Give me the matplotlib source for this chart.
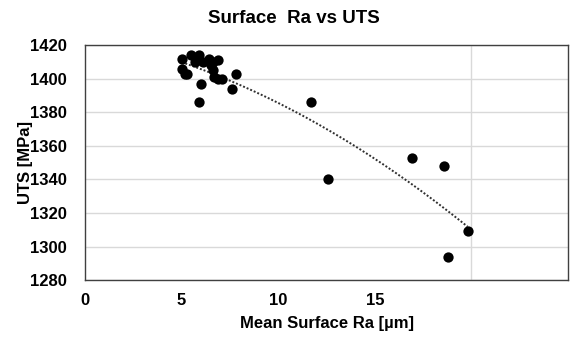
import numpy as np
import matplotlib
matplotlib.use('Agg')
import matplotlib.pyplot as plt

plt.rcParams['font.family'] = ['Liberation Sans', 'DejaVu Sans']
plt.rcParams['font.weight'] = 'bold'

# Data
ra = [5.0, 5.0, 5.2, 5.3, 5.5, 5.7, 5.9, 6.0, 5.9, 6.1, 6.4, 6.5, 6.6, 6.6,
      6.7, 6.9, 6.9, 7.1, 7.6, 7.8, 11.7, 12.6, 16.9, 18.6, 18.8, 19.8]
uts = [1406, 1412, 1403, 1403, 1414, 1410, 1414, 1397, 1386, 1410, 1412, 1408,
       1410, 1405, 1401, 1411, 1400, 1400, 1394, 1403, 1386, 1340, 1353, 1348,
       1294, 1309]
xticks = [0, 5, 10, 15]
yticks = [1280, 1300, 1320, 1340, 1360, 1380, 1400, 1420]

fig = plt.figure(figsize=(5.88, 3.42), dpi=100)
ax = fig.add_axes([0.1446, 0.181, 0.8214, 0.687])

ax.scatter(ra, uts, s=55, color='black', zorder=3, linewidths=0)

# 2nd order polynomial trendline, like the spreadsheet one
coef = np.polyfit(ra, uts, 2)
xt = np.linspace(min(ra), max(ra), 200)
ax.plot(xt, np.polyval(coef, xt), color='#303030', lw=1.4, ls=(0, (1, 1)), zorder=2)

ax.set_xlim(0, 25)
ax.set_ylim(1280, 1420)
ax.set_xticks([5, 10, 15, 20], minor=True)
ax.set_xticks(xticks)
ax.set_yticks(yticks)
ax.grid(True, which='minor', axis='x', color='#d9d9d9', lw=1)
ax.grid(True, which='major', axis='y', color='#d9d9d9', lw=1)
ax.set_axisbelow(True)
ax.tick_params(which='both', length=0, labelsize=12)
ax.tick_params(axis='y', pad=13)
ax.tick_params(axis='x', pad=9)
for sp in ax.spines.values():
    sp.set_color('#404040')
    sp.set_linewidth(1)

fig.text(0.5, 0.945, 'Surface  Ra vs UTS', fontsize=13.5, fontweight='bold',
         ha='center', va='center')
ax.set_xlabel('Mean Surface Ra [\u00b5m]', fontsize=12, fontweight='bold', labelpad=6)
ax.set_ylabel('UTS [MPa]', fontsize=12, fontweight='bold')
ax.yaxis.set_label_coords(-0.108, 0.5)

fig.savefig('out.png', dpi=100)
